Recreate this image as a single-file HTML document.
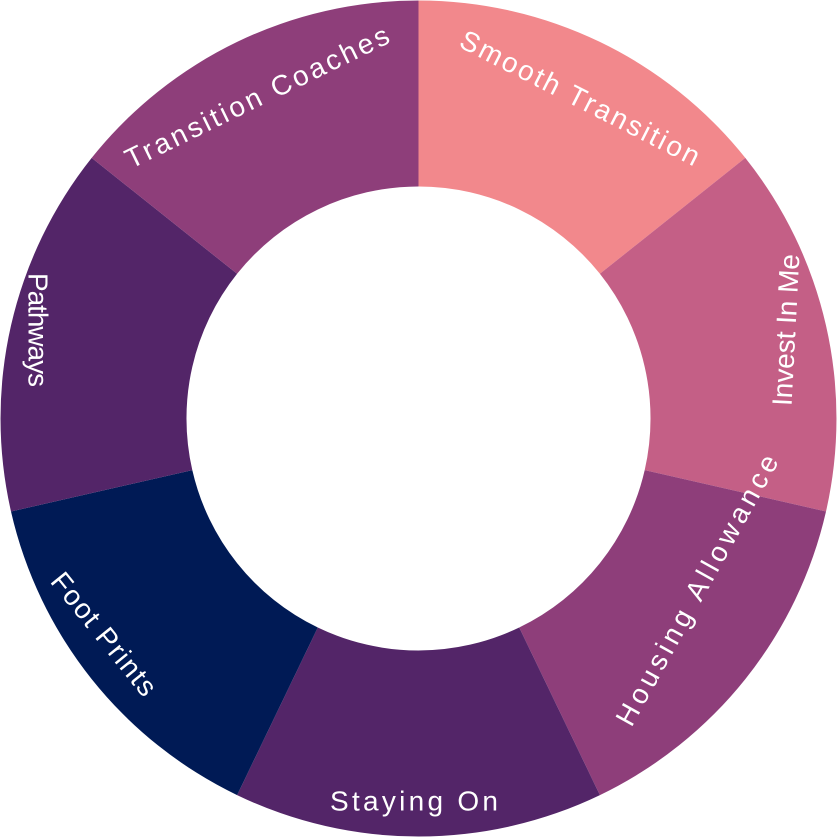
<!DOCTYPE html>
<html><head><meta charset="utf-8"><style>
html,body{margin:0;padding:0;background:#fff;width:837px;height:837px;overflow:hidden}
text{font-family:"Liberation Sans",sans-serif;font-size:28px;fill:#fff;text-anchor:middle;dominant-baseline:central}
</style></head><body>
<svg width="837" height="837" viewBox="0 0 837 837" xmlns="http://www.w3.org/2000/svg">
<path d="M418.5,0.5 A418,418 0 0 1 745.3,157.9 L599.9,273.8 A232,232 0 0 0 418.5,186.5 Z" fill="#f2888c"/>
<path d="M745.3,157.9 A418,418 0 0 1 826,511.5 L644.7,470.1 A232,232 0 0 0 599.9,273.8 Z" fill="#c45f86"/>
<path d="M826,511.5 A418,418 0 0 1 599.9,795.1 L519.2,627.5 A232,232 0 0 0 644.7,470.1 Z" fill="#8e3e7a"/>
<path d="M599.9,795.1 A418,418 0 0 1 237.1,795.1 L317.8,627.5 A232,232 0 0 0 519.2,627.5 Z" fill="#532568"/>
<path d="M237.1,795.1 A418,418 0 0 1 11,511.5 L192.3,470.1 A232,232 0 0 0 317.8,627.5 Z" fill="#001a55"/>
<path d="M11,511.5 A418,418 0 0 1 91.7,157.9 L237.1,273.8 A232,232 0 0 0 192.3,470.1 Z" fill="#532568"/>
<path d="M91.7,157.9 A418,418 0 0 1 418.5,0.5 L418.5,186.5 A232,232 0 0 0 237.1,273.8 Z" fill="#8e3e7a"/>
<text transform="translate(580,98) rotate(27)" textLength="265" lengthAdjust="spacing">Smooth Transition</text>
<text transform="translate(786,330) rotate(-87)" textLength="152" lengthAdjust="spacing">Invest In Me</text>
<text transform="translate(697,590) rotate(-61)" textLength="305" lengthAdjust="spacing">Housing Allowance</text>
<text transform="translate(414,801)" textLength="168" lengthAdjust="spacing">Staying On</text>
<text transform="translate(104,634) rotate(51)" textLength="150" lengthAdjust="spacing">Foot Prints</text>
<text transform="translate(38,330) rotate(90)" textLength="114" lengthAdjust="spacing">Pathways</text>
<text transform="translate(257,97) rotate(-26)" textLength="290" lengthAdjust="spacing">Transition Coaches</text>
</svg>
</body></html>
